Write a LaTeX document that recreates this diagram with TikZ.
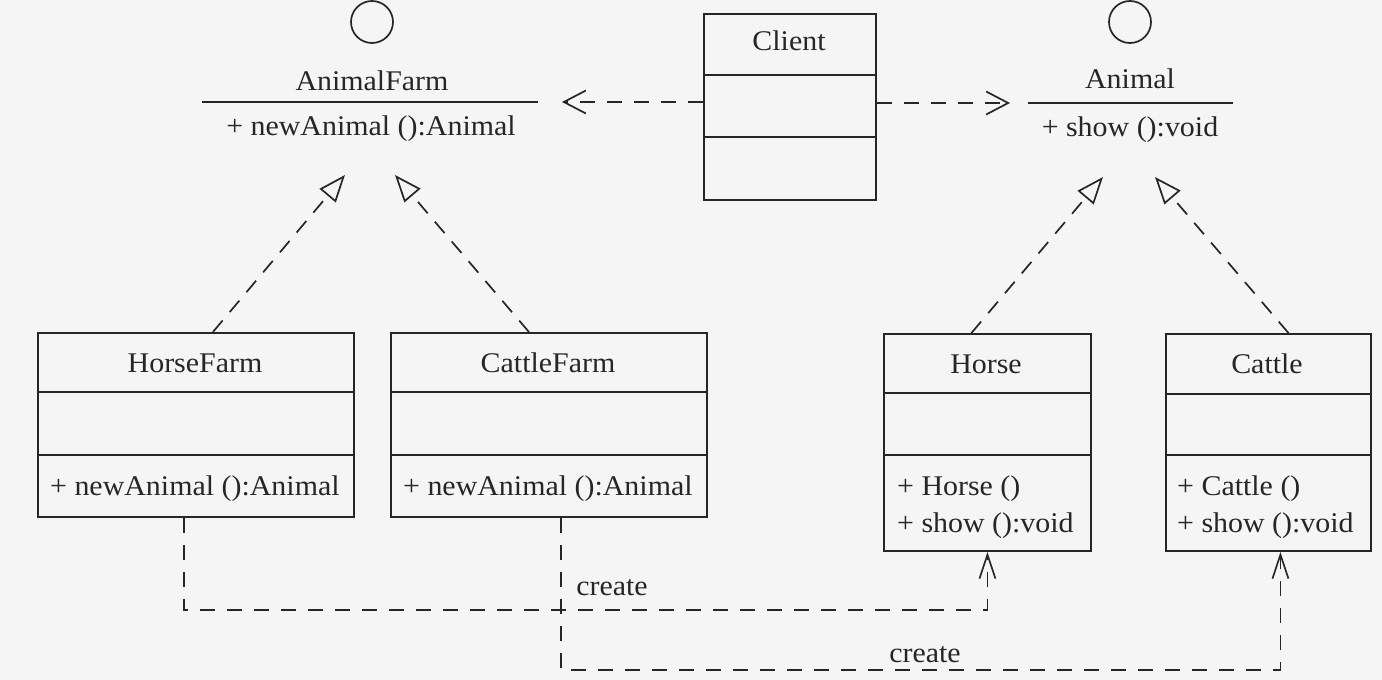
\documentclass[tikz,border=0pt]{standalone}
\usepackage{fontspec}
\setmainfont{Liberation Serif}[FakeStretch=1.05]
\usetikzlibrary{arrows.meta}
\definecolor{bgc}{HTML}{F5F5F5}
\definecolor{ink}{HTML}{262626}
\tikzset{
  lbl/.style={font=\fontsize{28.5}{32}\selectfont, text=ink, inner sep=0pt},
  clsbox/.style={draw=ink, line width=1.9pt, rectangle, inner sep=0pt, anchor=north west},
  divider/.style={draw=ink, line width=1.7pt},
  iface/.style={draw=ink, line width=1.7pt, circle, inner sep=0pt, minimum size=42pt},
  realize/.style={draw=ink, line width=1.7pt, dash pattern=on 15pt off 11pt,
    -{Triangle[length=27pt,width=21pt,fill=bgc,line width=1.7pt]}},
  depend/.style={draw=ink, line width=1.7pt, dash pattern=on 15pt off 12pt,
    -{Straight Barb[length=22pt,width=23pt,line width=1.7pt]}},
  createarrow/.style={depend, -{Straight Barb[length=24pt,width=16pt,line width=1.7pt]}},
}
\begin{document}
\begin{tikzpicture}[x=1pt,y=-1pt]
\fill[bgc] (0,0) rectangle (1382,680);
\useasboundingbox (0,0) rectangle (1382,680);

% ---- interface AnimalFarm
\node[iface] (afc) at (372,22) {};
\node[lbl, anchor=base] (afn) at (372,90) {AnimalFarm};
\coordinate (afl) at (202,102);
\coordinate (afr) at (538,102);
\draw[divider] (afl) -- (afr);
\node[lbl, anchor=base] (afo) at (371,135) {+ newAnimal ():Animal};
\coordinate (aft1) at (345,175);
\coordinate (aft2) at (395,175);

% ---- interface Animal
\node[iface] (anc) at (1130,22) {};
\node[lbl, anchor=base] (ann) at (1130,88) {Animal};
\coordinate (anl) at (1028,103);
\coordinate (anr) at (1233,103);
\draw[divider] (anl) -- (anr);
\node[lbl, anchor=base] (ano) at (1130,136) {+ show ():void};
\coordinate (ant1) at (1103,177);
\coordinate (ant2) at (1155,177);

% ---- Client
\node[clsbox, minimum width=172pt, minimum height=186pt] (cl) at (703,13) {};
\draw[divider] ([yshift=-62pt]cl.north west) -- ([yshift=-62pt]cl.north east);
\draw[divider] ([yshift=-124pt]cl.north west) -- ([yshift=-124pt]cl.north east);
\node[lbl, anchor=base] (cln) at (789,50) {Client};

% ---- HorseFarm
\node[clsbox, minimum width=316pt, minimum height=184pt] (hf) at (37,332) {};
\draw[divider] ([yshift=-60pt]hf.north west) -- ([yshift=-60pt]hf.north east);
\draw[divider] ([yshift=-123pt]hf.north west) -- ([yshift=-123pt]hf.north east);
\node[lbl, anchor=base] (hfn) at (195,372) {HorseFarm};
\node[lbl, anchor=base west] (hfo) at (50,495) {+ newAnimal ():Animal};

% ---- CattleFarm
\node[clsbox, minimum width=316pt, minimum height=184pt] (cf) at (390,332) {};
\draw[divider] ([yshift=-60pt]cf.north west) -- ([yshift=-60pt]cf.north east);
\draw[divider] ([yshift=-123pt]cf.north west) -- ([yshift=-123pt]cf.north east);
\node[lbl, anchor=base] (cfn) at (548,372) {CattleFarm};
\node[lbl, anchor=base west] (cfo) at (403,495) {+ newAnimal ():Animal};

% ---- Horse
\node[clsbox, minimum width=207pt, minimum height=217pt] (ho) at (883,333) {};
\draw[divider] ([yshift=-60pt]ho.north west) -- ([yshift=-60pt]ho.north east);
\draw[divider] ([yshift=-122pt]ho.north west) -- ([yshift=-122pt]ho.north east);
\node[lbl, anchor=base] (hon) at (986,373) {Horse};
\node[lbl, anchor=base west] (hoo1) at (897,495) {+ Horse ()};
\node[lbl, anchor=base west] (hoo2) at (897,532) {+ show ():void};

% ---- Cattle
\node[clsbox, minimum width=205pt, minimum height=217pt] (ca) at (1165,333) {};
\draw[divider] ([yshift=-61pt]ca.north west) -- ([yshift=-61pt]ca.north east);
\draw[divider] ([yshift=-122pt]ca.north west) -- ([yshift=-122pt]ca.north east);
\node[lbl, anchor=base] (can) at (1267,373) {Cattle};
\node[lbl, anchor=base west] (cao1) at (1177,495) {+ Cattle ()};
\node[lbl, anchor=base west] (cao2) at (1177,532) {+ show ():void};

% ---- dependencies from Client
\draw[depend] (cl.west |- afr) -- ([xshift=24pt]afr);
\draw[depend] (cl.east |- anl) -- ([xshift=-18pt]anl);

% ---- realizations
\draw[realize] ([xshift=17pt]hf.north) -- (aft1);
\draw[realize] ([xshift=-20pt]cf.north) -- (aft2);
\draw[realize] ([xshift=-16pt]ho.north) -- (ant1);
\draw[realize] ([xshift=20pt]ca.north) -- (ant2);

% ---- create
\draw[createarrow] ([xshift=-12pt]hf.south) -- ++(0,92) -| (ho.south);
\draw[createarrow] ([xshift=12pt]cf.south) -- ++(0,152) -| ([xshift=12pt]ca.south);
\node[lbl, anchor=base] (cr1) at (612,595) {create};
\node[lbl, anchor=base] (cr2) at (925,662) {create};
\end{tikzpicture}
\end{document}
